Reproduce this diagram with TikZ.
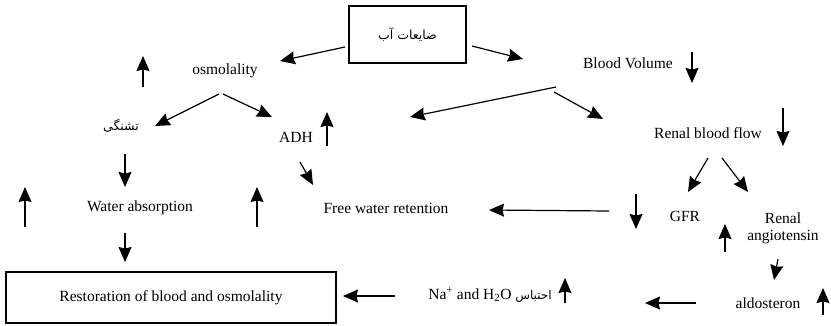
\documentclass[tikz,border=0pt]{standalone}
\usepackage{fontspec}
\setmainfont{Liberation Serif}
\newfontfamily\arabicfont[Script=Arabic]{DejaVu Sans}
\TeXXeTstate=1
\usetikzlibrary{arrows.meta}
\tikzset{
  arr/.style={line width=1.2pt,-{Stealth[length=15pt,width=13pt,inset=1.5pt]}},
  lbl/.style={font=\fontsize{15.5}{18}\selectfont,inner sep=1pt,align=center},
  fa/.style={font=\arabicfont\fontsize{12.5}{14}\selectfont,inner sep=1pt},
  frame/.style={draw,line width=1.3pt,inner sep=0pt}
}
\begin{document}
\begin{tikzpicture}[x=1pt,y=-1pt]
      \useasboundingbox (0,0) rectangle (831,325);
      % boxes
      \node[frame,minimum width=117pt,minimum height=57pt,fa] (loss) at (407.5,34.5) {\beginR ضایعات آب\endR};
      \node[frame,minimum width=330pt,minimum height=51pt,lbl] (rest) at (171,297.5) {Restoration of blood and osmolality};
      % labels
      \node[lbl] (osm) at (225,71) {osmolality};
      \node[lbl] (bv) at (628,63) {Blood Volume};
      \node[fa] (thirst) at (121,126) {\beginR تشنگی\endR};
      \node[lbl] (adh) at (296,137) {ADH};
      \node[lbl] (rbf) at (708,133) {Renal blood flow};
      \node[lbl] (wabs) at (140,208) {Water absorption};
      \node[lbl] (fwr) at (386,208) {Free water retention};
      \node[lbl] (gfr) at (685,216) {GFR};
      \node[lbl] (rang) at (783,228) {Renal\\[-1pt]angiotensin};
      \node[lbl] (aldo) at (768,303) {aldosteron};
      \node[lbl] (na) at (490,295) {Na\textsuperscript{+} and H\textsubscript{2}O {\arabicfont\fontsize{12}{14}\selectfont\beginR احتباس\endR}};
      % connector ends
      \coordinate (c1) at (345,47);  \coordinate (c2) at (280,61);
      \coordinate (c3) at (472,46);  \coordinate (c4) at (523,59);
      \coordinate (c5) at (219,94);  \coordinate (c6) at (155,126);
      \coordinate (c7) at (223,94);  \coordinate (c8) at (272,117);
      \coordinate (c9) at (556,87);  \coordinate (c10) at (410,117);
      \coordinate (c11) at (554,92); \coordinate (c12) at (603,119);
      \coordinate (c13) at (300,162); \coordinate (c14) at (313,185);
      \coordinate (c15) at (708,158); \coordinate (c16) at (688,192);
      \coordinate (c17) at (722,158); \coordinate (c18) at (748,192);
      \coordinate (c19) at (778,259); \coordinate (c20) at (774,280);
      \coordinate (c21) at (609,211); \coordinate (c22) at (489,210);
      \coordinate (c23) at (696,303); \coordinate (c24) at (645,303);
      \coordinate (c25) at (395,296); \coordinate (c26) at (343,296);
      \coordinate (c27) at (125,154); \coordinate (c28) at (125,187);
      \coordinate (c29) at (125,233); \coordinate (c30) at (125,262);
      % connectors
      \foreach \a/\b in {c1/c2,c3/c4,c5/c6,c7/c8,c9/c10,c11/c12,c13/c14,c15/c16,
                         c17/c18,c19/c20,c21/c22,c23/c24,c25/c26,c27/c28,c29/c30} {
        \draw[arr] (\a) -- (\b);
      }
      % rise and fall marks
      \foreach \x/\t/\b in {143/56/87,327/112/146,25/187/227,257/187/227,725/224/252,823/288/315,565/278/303} {
        \draw[arr] (\x,\b) -- (\x,\t);
      }
      \foreach \x/\t/\b in {692/52/83,783/108/146,636/194/229} {
        \draw[arr] (\x,\t) -- (\x,\b);
      }
    \end{tikzpicture}
\end{document}
